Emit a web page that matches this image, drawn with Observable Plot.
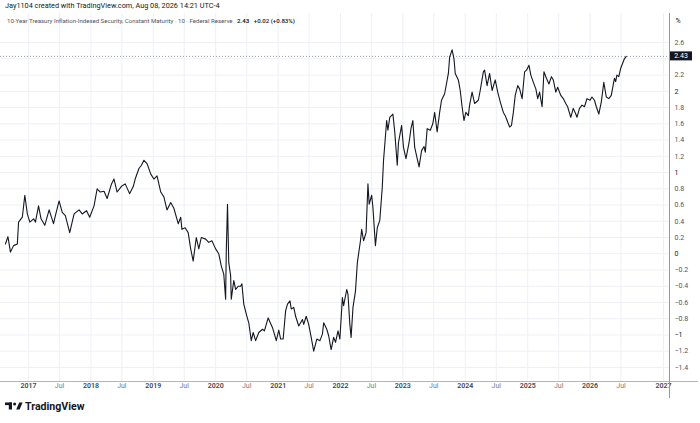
<!DOCTYPE html>
<html>
<head>
<meta charset="utf-8">
<script src="https://cdn.jsdelivr.net/npm/d3@7"></script>
<script src="https://cdn.jsdelivr.net/npm/@observablehq/plot@0.6"></script>
<style>
  body { margin: 0; background: #fff; font-family: Roboto, "Noto Sans", sans-serif; }
  #wrap { position: relative; width: 700px; height: 423px; overflow: hidden; background: #fff; }
  #chart { position: absolute; left: 0; top: 0; }
  .hdr1 { position: absolute; left: 5px; top: 1px; font-size: 7.3px; line-height: 10px; color: #131722; white-space: nowrap; }
  .hdr2 { position: absolute; left: 7px; top: 16px; font-size: 6.1px; line-height: 10px; color: #50535e; white-space: nowrap; }
  .hdr2 b { color: #131722; font-weight: 600; margin-left: 3px; }
  .foot { position: absolute; left: 5px; top: 400px; height: 12px; display: flex; align-items: center; gap: 2px; font-size: 10.6px; font-weight: 700; color: #131722; white-space: nowrap; }
</style>
</head>
<body>
<div id="wrap">
  <div id="chart"></div>
  <div class="hdr1">Jay1104 created with TradingView.com, Aug 08, 2026 14:21 UTC-4</div>
  <div class="hdr2">10-Year Treasury Inflation-Indexed Security, Constant Maturity · 10 · Federal Reserve <b>2.43</b> <b style="font-weight:500">+0.02 (+0.83%)</b></div>
  <div class="foot">
    <svg width="18" height="8" viewBox="0 0 18 8"><rect x="0" y="0.5" width="7" height="2.6" fill="#131722"/><rect x="3.8" y="0.5" width="3.2" height="7" fill="#131722"/><circle cx="9.6" cy="1.9" r="1.5" fill="#131722"/><polygon points="11.2,7.5 14.2,0.5 17.6,0.5 14.6,7.5" fill="#131722"/></svg>
    <span>TradingView</span>
  </div>
</div>
<script>
// Observation dates (decimal years) and 10-year TIPS yield (%)
const dates = [
  2016.63,2016.67,2016.71,2016.76,2016.82,2016.84,2016.90,2016.94,2016.98,
  2017.02,2017.08,2017.11,2017.16,2017.20,2017.26,2017.33,2017.40,2017.43,2017.49,2017.54,2017.59,2017.66,2017.73,2017.81,2017.86,2017.93,2017.98,
  2018.05,2018.10,2018.15,2018.21,2018.26,2018.33,2018.37,2018.42,2018.49,2018.55,2018.62,2018.68,2018.71,2018.77,2018.81,2018.85,2018.90,2018.96,
  2019.01,2019.06,2019.12,2019.17,2019.22,2019.28,2019.33,2019.40,2019.44,2019.46,2019.51,2019.56,2019.60,2019.64,2019.69,2019.73,2019.77,2019.84,2019.89,2019.94,
  2020.00,2020.05,2020.09,2020.13,2020.16,2020.17,2020.19,2020.21,2020.24,2020.25,2020.29,2020.32,2020.36,2020.40,2020.42,2020.45,2020.50,2020.53,2020.57,2020.60,2020.64,2020.69,2020.75,2020.78,2020.84,2020.91,2020.97,
  2021.01,2021.04,2021.08,2021.12,2021.15,2021.19,2021.21,2021.25,2021.28,2021.33,2021.39,2021.41,2021.45,2021.49,2021.53,2021.57,2021.62,2021.67,2021.71,2021.73,2021.78,2021.81,2021.85,2021.89,2021.92,2021.96,2021.99,
  2022.03,2022.05,2022.10,2022.12,2022.15,2022.17,2022.20,2022.24,2022.27,2022.32,2022.34,2022.37,2022.41,2022.44,2022.46,2022.50,2022.52,2022.56,2022.59,2022.63,2022.67,2022.69,2022.72,2022.74,2022.76,2022.79,2022.84,2022.87,2022.91,2022.93,2022.98,
  2023.01,2023.05,2023.10,2023.13,2023.16,2023.19,2023.23,2023.26,2023.30,2023.34,2023.36,2023.39,2023.44,2023.48,2023.51,2023.55,2023.59,2023.62,2023.67,2023.73,2023.75,2023.79,2023.82,2023.84,2023.89,2023.92,2023.95,2023.98,
  2024.01,2024.05,2024.07,2024.11,2024.15,2024.21,2024.24,2024.29,2024.31,2024.35,2024.39,2024.43,2024.48,2024.52,2024.56,2024.61,2024.64,2024.67,2024.71,2024.74,2024.77,2024.80,2024.84,2024.87,2024.91,2024.95,2024.98,
  2025.02,2025.05,2025.09,2025.13,2025.16,2025.19,2025.23,2025.26,2025.30,2025.34,2025.38,2025.41,2025.45,2025.48,2025.53,2025.57,2025.61,2025.64,2025.69,2025.73,2025.77,2025.79,2025.83,2025.87,2025.91,2025.95,
  2026.00,2026.03,2026.07,2026.10,2026.14,2026.18,2026.22,2026.26,2026.30,2026.34,2026.39,2026.41,2026.43,2026.46,2026.49,2026.51,2026.55,2026.58
];
const values = [
  0.12,0.21,0.02,0.10,0.12,0.39,0.45,0.72,0.49,
  0.39,0.43,0.39,0.59,0.43,0.35,0.54,0.37,0.47,0.65,0.51,0.47,0.26,0.49,0.54,0.49,0.53,0.45,
  0.59,0.80,0.76,0.77,0.68,0.86,0.92,0.76,0.83,0.86,0.74,0.83,0.92,1.05,1.09,1.15,1.11,0.98,
  0.92,0.96,0.76,0.70,0.54,0.63,0.56,0.37,0.45,0.30,0.32,0.26,0.06,-0.09,0.20,0.06,0.20,0.18,0.14,0.16,
  0.06,0.00,-0.15,-0.25,-0.56,0.02,0.61,-0.11,-0.27,-0.56,-0.33,-0.44,-0.40,-0.40,-0.37,-0.62,-0.77,-0.85,-1.07,-0.97,-1.07,-0.97,-0.93,-0.95,-0.79,-0.91,-1.07,
  -0.94,-1.05,-1.05,-0.70,-0.62,-0.58,-0.68,-0.66,-0.77,-0.89,-0.81,-0.87,-0.77,-0.87,-1.03,-1.20,-1.05,-1.07,-0.99,-0.85,-0.93,-1.01,-1.18,-1.03,-1.09,-0.95,-1.05,
  -0.54,-0.64,-0.44,-0.50,-0.87,-1.03,-0.66,-0.46,-0.11,0.16,0.30,0.16,0.26,0.86,0.61,0.72,0.57,0.10,0.32,0.41,0.82,1.15,1.44,1.64,1.52,1.68,1.72,1.50,1.09,1.37,1.58,
  1.31,1.17,1.37,1.54,1.64,1.31,1.17,1.07,1.27,1.32,1.25,1.54,1.52,1.60,1.74,1.50,1.74,1.89,1.97,2.22,2.42,2.51,2.40,2.22,2.14,2.01,1.81,1.64,
  1.74,1.70,1.83,1.99,1.85,1.89,2.01,2.24,2.26,2.07,2.22,2.01,2.14,1.99,1.87,1.74,1.70,1.64,1.56,1.58,1.74,1.95,2.07,2.03,1.91,2.24,2.26,
  2.32,2.20,2.11,2.03,1.91,1.99,1.81,2.24,2.16,2.09,2.18,2.14,1.99,2.05,1.95,1.91,1.85,1.81,1.68,1.79,1.72,1.68,1.79,1.83,1.81,1.91,
  1.89,1.93,1.89,1.81,1.72,1.87,2.11,1.93,1.91,1.95,2.16,2.12,2.20,2.18,2.28,2.32,2.40,2.43
];
const lastValue = 2.43;

const xTickDates = ["2017-01-01","2017-07-01","2018-01-01","2018-07-01","2019-01-01","2019-07-01","2020-01-01","2020-07-01","2021-01-01","2021-07-01","2022-01-01","2022-07-01","2023-01-01","2023-07-01","2024-01-01","2024-07-01","2025-01-01","2025-07-01","2026-01-01","2026-07-01","2027-01-01"];
const xTickLabels = ["2017","Jul","2018","Jul","2019","Jul","2020","Jul","2021","Jul","2022","Jul","2023","Jul","2024","Jul","2025","Jul","2026","Jul","2027"];
const yTicks = [-1.4,-1.2,-1,-0.8,-0.6,-0.4,-0.2,0,0.2,0.4,0.6,0.8,1,1.2,1.4,1.6,1.8,2,2.2,2.4,2.6];

function decYearToDate(t) {
  const y = Math.floor(t);
  const a = Date.UTC(y, 0, 1), b = Date.UTC(y + 1, 0, 1);
  return new Date(a + (t - y) * (b - a));
}
const data = dates.map((t, i) => ({date: decYearToDate(t), value: values[i]}));
const xTicks = xTickDates.map((d, i) => ({date: new Date(d), label: xTickLabels[i], year: xTickLabels[i] !== "Jul"}));
// the 2.4 label sits under the last-price tag, as in the original
const yLabelTicks = yTicks.filter(v => Math.abs(v - lastValue) > 0.08);

function fmtY(v) {
  if (Math.abs(v) < 1e-9) return "0";
  const s = String(+Math.abs(v).toFixed(1));
  return (v < 0 ? "\u2212" : "") + s;
}

const W = 700, H = 423, mTop = 13, mBottom = 42, mRight = 31;
const font = 'Roboto, "Noto Sans", sans-serif';

const decor = (index, scales, values_, dims) => {
  const g = d3.create("svg:g");
  const xr = dims.width - dims.marginRight;
  const yb = dims.height - dims.marginBottom;
  g.append("line").attr("x1", 0).attr("x2", 698).attr("y1", yb + 0.5).attr("y2", yb + 0.5).attr("stroke", "#b2b5be");
  g.append("line").attr("x1", xr + 0.5).attr("x2", xr + 0.5).attr("y1", dims.marginTop).attr("y2", yb + 17).attr("stroke", "#9598a1");
  const py = scales.y(lastValue);
  g.append("rect").attr("x", xr + 1).attr("y", py - 4.5).attr("width", 22).attr("height", 9).attr("fill", "#131722");
  g.append("text").attr("x", xr + 12).attr("y", py).attr("dy", "0.35em").attr("text-anchor", "middle")
    .attr("fill", "#ffffff").attr("font-size", 7).attr("font-family", font).text(lastValue.toFixed(2));
  g.append("text").attr("x", xr + 9).attr("y", 21).attr("dy", "0.35em").attr("fill", "#131722")
    .attr("font-size", 7).attr("font-family", font).text("%");
  return g.node();
};

const chart = Plot.plot({
  width: W,
  height: H,
  marginTop: mTop,
  marginBottom: mBottom,
  marginLeft: 0,
  marginRight: mRight,
  style: {background: "white", fontFamily: font, overflow: "visible"},
  x: {type: "utc", domain: [decYearToDate(2016.551), new Date("2026-08-08"), new Date("2027-01-01")], range: [0, 627, 663], axis: null},
  y: {domain: [-1.573, 2.958], axis: null},
  marks: [
    Plot.ruleY(yTicks, {stroke: "#eef0f4", strokeWidth: 1}),
    Plot.ruleX(xTicks, {x: "date", stroke: "#eef0f4", strokeWidth: 1}),
    Plot.ruleY([lastValue], {stroke: "#9598a1", strokeDasharray: "1,2", strokeWidth: 1}),
    Plot.line(data, {x: "date", y: "value", stroke: "#131722", strokeWidth: 1.1}),
    Plot.text(yLabelTicks, {y: d => d, text: fmtY, frameAnchor: "right", dx: 5, textAnchor: "start",
      fill: d => Number.isInteger(d) ? "#131722" : "#50535e", fontSize: 7}),
    Plot.text(xTicks.filter(d => d.year), {x: "date", text: "label", frameAnchor: "bottom", dy: 6.5, fill: "#434651", fontSize: 7, fontWeight: 600}),
    Plot.text(xTicks.filter(d => !d.year), {x: "date", text: "label", frameAnchor: "bottom", dy: 6.5, fill: "#787b86", fontSize: 7}),
    decor
  ]
});
document.getElementById("chart").appendChild(chart);
</script>
</body>
</html>
